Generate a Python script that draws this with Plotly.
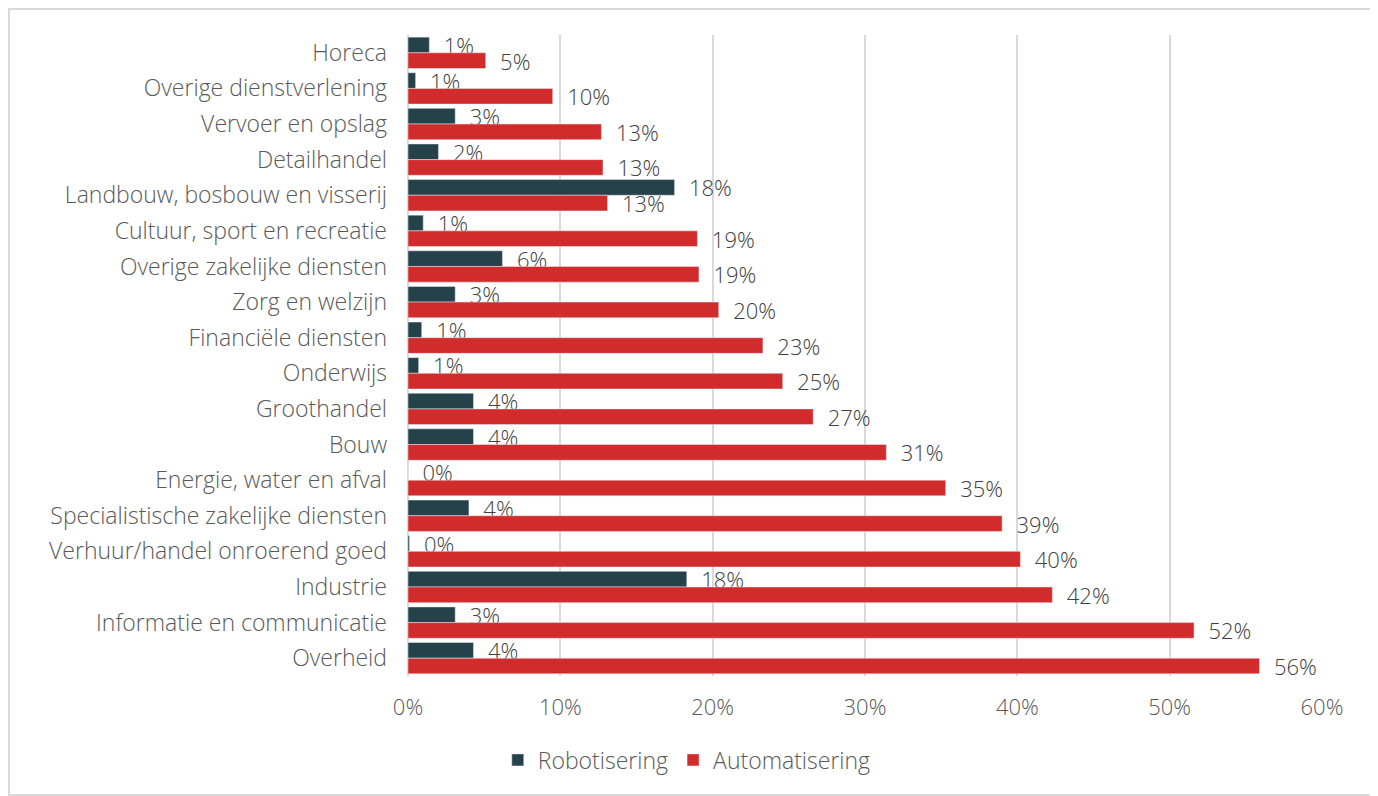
import plotly.graph_objects as go

sectors = [
    "Horeca", "Overige dienstverlening", "Vervoer en opslag", "Detailhandel",
    "Landbouw, bosbouw en visserij", "Cultuur, sport en recreatie",
    "Overige zakelijke diensten", "Zorg en welzijn", "Financiële diensten",
    "Onderwijs", "Groothandel", "Bouw", "Energie, water en afval",
    "Specialistische zakelijke diensten", "Verhuur/handel onroerend goed",
    "Industrie", "Informatie en communicatie", "Overheid",
]
robotisering = [0.014, 0.005, 0.031, 0.020, 0.175, 0.010, 0.062, 0.031, 0.009,
                0.007, 0.043, 0.043, 0.000, 0.040, 0.001, 0.183, 0.031, 0.043]
automatisering = [0.051, 0.095, 0.127, 0.128, 0.131, 0.190, 0.191, 0.204, 0.233,
                  0.246, 0.266, 0.314, 0.353, 0.390, 0.402, 0.423, 0.516, 0.559]

font = "'Open Sans', Lato, sans-serif"
label_font = dict(size=22, color="#404040", weight=300)

fig = go.Figure()
fig.add_trace(go.Bar(
    y=sectors, x=robotisering, orientation="h", name="Robotisering",
    marker_color="#25414A", texttemplate="  %{x:.0%}", textposition="outside",
    textfont=label_font, cliponaxis=False, constraintext="none",
))
fig.add_trace(go.Bar(
    y=sectors, x=automatisering, orientation="h", name="Automatisering",
    marker_color="#D22B2B", texttemplate="  %{x:.0%}", textposition="outside",
    textfont=label_font, cliponaxis=False, constraintext="none",
))

# the page body adds an 8px offset, so the figure is 8px smaller than the window
fig.update_layout(
    width=1370, height=788,
    margin=dict(l=400, r=56, t=27, b=120),
    barmode="group", bargap=0.12, bargroupgap=0,
    plot_bgcolor="white", paper_bgcolor="white",
    font=dict(family=font, size=22, color="#595959", weight=300),
    legend=dict(orientation="h", x=0.305, xanchor="center", y=-0.131, yanchor="middle",
                font=dict(size=23, weight=300), traceorder="normal", itemwidth=30),
    xaxis=dict(range=[0, 0.6], dtick=0.1, tickformat=".0%", showgrid=True,
               gridcolor="#D9D9D9", gridwidth=1.5, zeroline=True,
               zerolinecolor="#D9D9D9", zerolinewidth=1.5, ticks="",
               ticklabelstandoff=16),
    yaxis=dict(autorange="reversed", showgrid=False, ticks="", ticklabelstandoff=20,
               tickfont=dict(size=23)),
    shapes=[dict(type="rect", xref="paper", yref="paper",
                 x0=-0.4365, x1=1.059, y0=-0.1856, y1=1.0406,
                 line=dict(color="#D9D9D9", width=2))],
)

fig.write_html("out.html")
